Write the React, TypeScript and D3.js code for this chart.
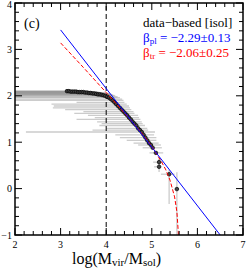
import { useEffect } from 'react';
import * as d3 from 'd3';

// cumulative mass function points (log M, log N)
const massX = [
  3.14, 3.18, 3.22, 3.26, 3.30, 3.34, 3.38, 3.42, 3.46, 3.50, 3.54, 3.58, 3.62, 3.66,
  3.70, 3.74, 3.78, 3.82, 3.86, 3.90, 3.94, 3.98, 4.02, 4.06, 4.10, 4.14, 4.18, 4.22,
  4.26, 4.30, 4.34, 4.38, 4.42, 4.46, 4.50, 4.54, 4.58, 4.62, 4.66, 4.70, 4.74, 4.78,
  4.82, 4.86, 4.90, 4.94, 4.98, 5.02, 5.09, 5.16, 5.16, 5.38, 5.55,
];
const cumY = [
  2.10, 2.10, 2.09, 2.09, 2.09, 2.09, 2.08, 2.08, 2.08, 2.08, 2.07, 2.07, 2.06, 2.06,
  2.05, 2.05, 2.04, 2.03, 2.03, 2.02, 2.01, 2.00, 1.98, 1.96, 1.93, 1.90, 1.86, 1.82,
  1.78, 1.74, 1.70, 1.66, 1.62, 1.58, 1.53, 1.49, 1.44, 1.40, 1.36, 1.30, 1.26, 1.22,
  1.16, 1.10, 1.04, 0.98, 0.94, 0.88, 0.77, 0.57, 0.47, 0.31, -0.01,
];
const xErrLo = [
  2.0, 2.0, 2.0, 2.0, 2.0, 2.0, 2.0, 2.0, 2.0, 2.0, 2.0, 2.0, 2.0, 2.0,
  2.0, 2.0, 2.0, 2.0, 2.0, 2.0, 2.0, 2.0, 2.0, 2.0, 2.0, 2.0, 3.35, 2.80,
  2.85, 2.83, 3.10, 3.50, 3.30, 3.60, 3.75, 3.35, 3.80, 3.90, 3.85, 4.00, 3.70, 2.24,
  4.20, 4.30, 4.45, 4.60, 4.70, 4.80, 4.95, 5.03, 5.05, 5.20, 5.50,
];
const xErrHi = [
  3.45, 3.50, 3.55, 3.60, 3.65, 3.70, 3.72, 3.80, 3.82, 3.85, 3.88, 3.90, 3.95, 3.98,
  4.02, 4.05, 4.08, 4.10, 4.12, 4.15, 4.18, 4.20, 4.25, 4.30, 4.35, 4.38, 4.40, 4.45,
  4.50, 4.52, 4.55, 4.60, 4.62, 4.70, 4.72, 4.75, 4.78, 4.80, 4.85, 4.90, 4.92, 5.07,
  5.05, 5.10, 5.10, 5.15, 5.20, 5.22, 5.25, 5.25, 5.20, 5.50, 5.60,
];
// vertical error bars (only the last few points)
const yErrIdx = [49, 50, 51, 52];
const yErrLo = [0.50, 0.36, -0.33, -1.1];
const yErrHi = [0.64, 0.68, 0.40, 0.35];

// fits
const plX = [3.0, 6.5];
const plY = [3.42, -1.0];
const trX = [3.0, 3.5, 4.0, 4.5, 4.8, 5.0, 5.2, 5.3, 5.4, 5.5, 5.55, 5.58, 5.585];
const trY = [3.14, 2.61, 2.07, 1.52, 1.17, 0.91, 0.60, 0.42, 0.18, -0.18, -0.50, -0.92, -1.05];

const xTicks = [2, 3, 4, 5, 6, 7];
const yTicks = [-1, 0, 1, 2, 3, 4];

const W = 251;
const H = 274;
const serif = '"Liberation Serif", "DejaVu Serif", serif';

export default function App() {
  useEffect(() => {
    document.body.style.margin = '0';
  }, []);

  const x = d3.scaleLinear().domain([2, 7]).range([15, 243]);
  const y = d3.scaleLinear().domain([-1, 4]).range([235, 3]);
  const [x0, x1] = x.range();
  const [y0, y1] = y.range();

  const minorX = d3.range(2, 7.001, 0.2).filter((v) => Math.abs(v - Math.round(v)) > 0.01);
  const minorY = d3.range(-1, 4.001, 0.2).filter((v) => Math.abs(v - Math.round(v)) > 0.01);

  const line = d3.line<[number, number]>().x((d) => x(d[0])).y((d) => y(d[1]));
  const plPts = plX.map((v, i) => [v, plY[i]] as [number, number]);
  const trPts = trX.map((v, i) => [v, trY[i]] as [number, number]);

  const major = 7;
  const minor = 4;

  return (
    <svg width={W} height={H} style={{ display: 'block' }} fontFamily={serif}>
      <defs>
        <clipPath id="plot">
          <rect x={x0} y={y1} width={x1 - x0} height={y0 - y1} />
        </clipPath>
      </defs>
      <rect width={W} height={H} fill="#fff" />

      <g clipPath="url(#plot)">
        {/* horizontal error bars */}
        {massX.map((m, i) => (
          <line
            key={'xe' + i}
            x1={x(xErrLo[i])}
            x2={x(xErrHi[i])}
            y1={y(cumY[i])}
            y2={y(cumY[i])}
            stroke="#999"
            strokeOpacity={0.5}
            strokeWidth={1.3}
          />
        ))}
        {yErrIdx.map((idx, i) => (
          <line
            key={'ye' + i}
            x1={x(massX[idx])}
            x2={x(massX[idx])}
            y1={y(yErrLo[i])}
            y2={y(yErrHi[i])}
            stroke="#999"
            strokeOpacity={0.5}
            strokeWidth={1.3}
          />
        ))}

        {/* vertical reference at logM = 4 */}
        <line x1={x(4)} x2={x(4)} y1={y0} y2={y1} stroke="#000" strokeWidth={1} strokeDasharray="5,3" />

        {/* points */}
        {massX.map((m, i) => (
          <circle key={'p' + i} cx={x(m)} cy={y(cumY[i])} r={1.8} fill="#444" stroke="#000" strokeWidth={0.7} />
        ))}

        <path d={line(trPts) ?? ''} fill="none" stroke="#ff0000" strokeWidth={1} strokeDasharray="4,2" />
        <path d={line(plPts) ?? ''} fill="none" stroke="#0000ff" strokeWidth={1} />
      </g>

      {/* ticks on all four sides */}
      <g stroke="#000" strokeWidth={1}>
        {xTicks.map((t) => (
          <g key={'xt' + t}>
            <line x1={x(t)} x2={x(t)} y1={y0} y2={y0 - major} />
            <line x1={x(t)} x2={x(t)} y1={y1} y2={y1 + major} />
          </g>
        ))}
        {minorX.map((t) => (
          <g key={'xm' + t}>
            <line x1={x(t)} x2={x(t)} y1={y0} y2={y0 - minor} />
            <line x1={x(t)} x2={x(t)} y1={y1} y2={y1 + minor} />
          </g>
        ))}
        {yTicks.map((t) => (
          <g key={'yt' + t}>
            <line x1={x0} x2={x0 + major} y1={y(t)} y2={y(t)} />
            <line x1={x1} x2={x1 - major} y1={y(t)} y2={y(t)} />
          </g>
        ))}
        {minorY.map((t) => (
          <g key={'ym' + t}>
            <line x1={x0} x2={x0 + minor} y1={y(t)} y2={y(t)} />
            <line x1={x1} x2={x1 - minor} y1={y(t)} y2={y(t)} />
          </g>
        ))}
      </g>
      <rect x={x0} y={y1} width={x1 - x0} height={y0 - y1} fill="none" stroke="#000" strokeWidth={1.5} />

      {/* tick labels */}
      {xTicks.map((t) => (
        <text key={'xl' + t} x={x(t)} y={y0 + 13} fontSize={10} textAnchor="middle">
          {t}
        </text>
      ))}
      {yTicks.map((t) => (
        <text key={'yl' + t} x={x0 - 3} y={Math.max(y(t) + 3.5, 8)} fontSize={10} textAnchor="end">
          {t < 0 ? '\u2212' + Math.abs(t) : t}
        </text>
      ))}

      <text x={x(7) - 171} y={264} fontSize={16}>
        log(M<tspan fontSize={11} dy={2}>vir</tspan>
        <tspan dy={-2}>/M</tspan>
        <tspan fontSize={11} dy={2}>sol</tspan>
        <tspan dy={-2}>)</tspan>
      </text>

      <text x={24} y={28} fontSize={14}>(c)</text>

      <text x={143} y={27} fontSize={13}>data−based [isol]</text>
      <text x={143} y={42} fontSize={13} fill="#0000ff">
        β<tspan fontSize={9} dy={2}>pl</tspan>
        <tspan dy={-2}> = −2.29±0.13</tspan>
      </text>
      <text x={143} y={57} fontSize={13} fill="#ff0000">
        β<tspan fontSize={9} dy={2}>tr</tspan>
        <tspan dy={-2}> = −2.06±0.25</tspan>
      </text>
    </svg>
  );
}
